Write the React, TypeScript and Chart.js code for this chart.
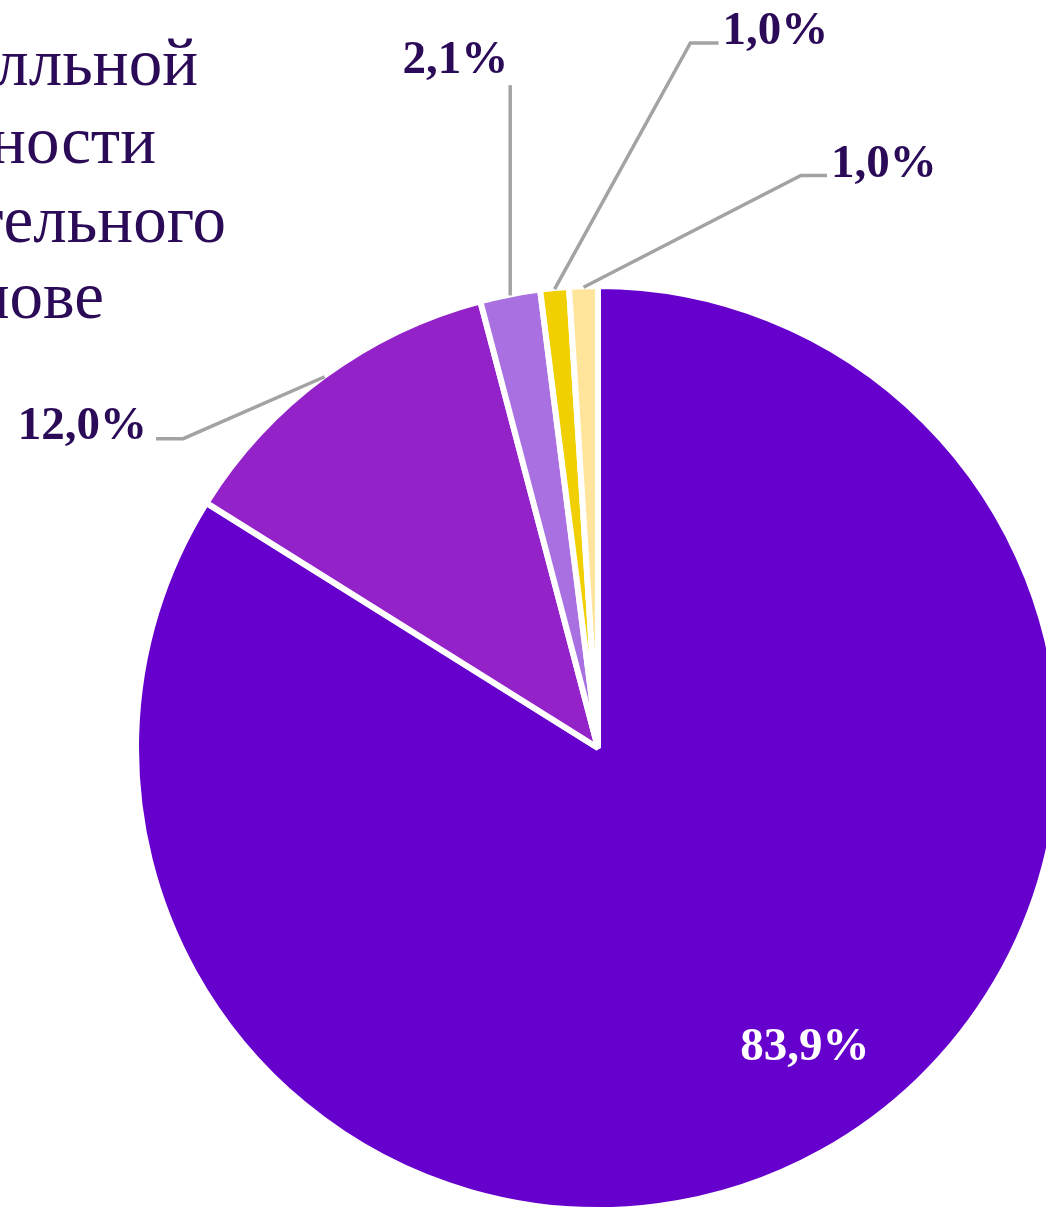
import { useEffect, useRef } from 'react';
import { Chart, registerables } from 'chart.js';

Chart.register(...registerables);

// ---- data ----
const categories = ['Группа 1', 'Группа 2', 'Группа 3', 'Группа 4', 'Группа 5'];
const shares = [83.9, 12.0, 2.1, 1.0, 1.0];
const valueLabels = ['83,9%', '12,0%', '2,1%', '1,0%', '1,0%'];
const sliceColors = ['#6600CC', '#9322C8', '#A870E0', '#F0D000', '#FFE49B'];
const titleFragments = ['лльной', 'ности', 'тельного', 'нове'];

// ---- layout (annotation placement, in px relative to the pie centre, for radius 460) ----
const BASE_R = 460;
type Place = { kind: 'inside'; tx: number; ty: number } | {
  kind: 'leader';
  pts: [number, number][];
  tx: number;
  ty: number;
  align: CanvasTextAlign;
};
const labelPlacement: Place[] = [
  { kind: 'inside', tx: 206, ty: 299 },
  { kind: 'leader', pts: [[-413, -308], [-440, -308]], tx: -449, ty: -308, align: 'right' },
  { kind: 'leader', pts: [[NaN, -660]], tx: -142, ty: -672, align: 'center' },
  { kind: 'leader', pts: [[92, -702], [120, -702]], tx: 124, ty: -701, align: 'left' },
  { kind: 'leader', pts: [[202, -570], [228, -570]], tx: 232, ty: -569, align: 'left' },
];
const titleLines = [
  { right: 198, base: 85 },
  { right: 156, base: 163 },
  { right: 226, base: 242 },
  { right: 104, base: 318 },
];

const LABEL_COLOR = '#2B0A57';

const annotate = {
  id: 'annotate',
  afterDatasetsDraw(chart: any) {
    const ctx: CanvasRenderingContext2D = chart.ctx;
    const meta = chart.getDatasetMeta(0);
    const first = meta.data[0];
    const cx = first.x;
    const cy = first.y;
    const r = first.outerRadius;
    const k = r / BASE_R;

    ctx.save();
    // title fragments
    ctx.fillStyle = LABEL_COLOR;
    ctx.font = '67px "Liberation Serif", "Times New Roman", serif';
    ctx.textAlign = 'right';
    ctx.textBaseline = 'alphabetic';
    titleFragments.forEach((t, i) => {
      ctx.fillText(t, titleLines[i].right, titleLines[i].base);
    });

    meta.data.forEach((arc: any, i: number) => {
      const p = labelPlacement[i];
      ctx.font = 'bold 47px "Liberation Serif", "Times New Roman", serif';
      if (p.kind === 'inside') {
        ctx.fillStyle = '#FFFFFF';
        ctx.textAlign = 'center';
        ctx.textBaseline = 'middle';
        ctx.fillText(valueLabels[i], cx + p.tx * k, cy + p.ty * k);
        return;
      }
      const mid = (arc.startAngle + arc.endAngle) / 2;
      const sr = arc.outerRadius - 1;
      const sx = cx + Math.cos(mid) * sr;
      const sy = cy + Math.sin(mid) * sr;
      ctx.strokeStyle = '#A3A3A3';
      ctx.lineWidth = 3.5;
      ctx.beginPath();
      ctx.moveTo(sx, sy);
      p.pts.forEach(([px, py]) => {
        const x = isNaN(px) ? sx : cx + px * k;
        ctx.lineTo(x, cy + py * k);
      });
      ctx.stroke();
      ctx.fillStyle = LABEL_COLOR;
      ctx.textAlign = p.align;
      ctx.textBaseline = 'alphabetic';
      ctx.fillText(valueLabels[i], cx + p.tx * k, cy + p.ty * k);
    });
    ctx.restore();
  },
};

const CANVAS_W = 1200;
const CANVAS_H = 1214;

export default function App() {
  const ref = useRef<HTMLCanvasElement | null>(null);

  useEffect(() => {
    if (!ref.current) return;
    const chart = new Chart(ref.current, {
      type: 'pie',
      data: {
        labels: categories,
        datasets: [
          {
            data: shares,
            backgroundColor: sliceColors,
            borderColor: '#FFFFFF',
            borderWidth: 6,
          },
        ],
      },
      options: {
        responsive: false,
        animation: false,
        layout: { padding: { left: 133, top: 283, right: CANVAS_W - 1063, bottom: 1 } },
        plugins: {
          legend: { display: false },
          tooltip: { enabled: false },
          title: { display: false },
        },
      },
      plugins: [annotate],
    });
    return () => chart.destroy();
  }, []);

  return (
    <div
      style={{
        position: 'fixed',
        top: 0,
        left: 0,
        width: 1046,
        height: 1210,
        overflow: 'hidden',
        background: '#FFFFFF',
      }}
    >
      <canvas
        ref={ref}
        width={CANVAS_W}
        height={CANVAS_H}
        style={{ width: CANVAS_W, height: CANVAS_H, display: 'block' }}
      />
    </div>
  );
}
